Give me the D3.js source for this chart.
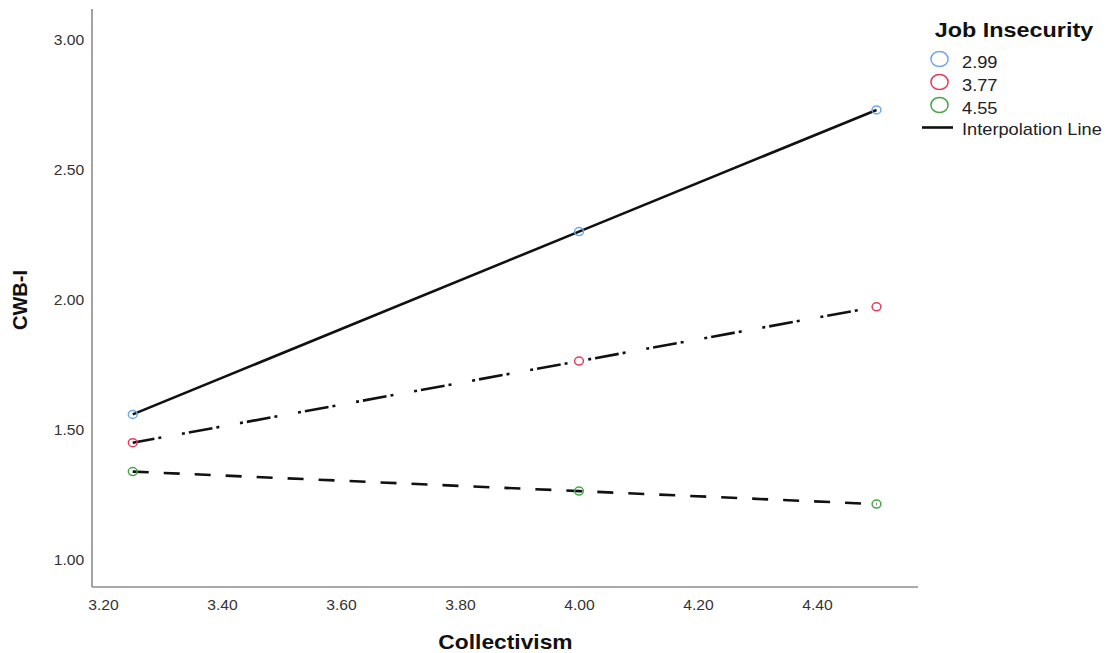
<!DOCTYPE html>
<html>
<head>
<meta charset="utf-8">
<script src="https://cdn.jsdelivr.net/npm/d3@7/dist/d3.min.js"></script>
<style>
  html, body { margin: 0; padding: 0; background: #fff; }
  svg { display: block; font-family: "Liberation Sans", Arial, sans-serif; }
</style>
</head>
<body>
<svg id="chart" width="1107" height="653"></svg>
<script>
// Simple slopes: CWB-I by Collectivism at three levels of Job Insecurity
const collectivism = [3.25, 4.00, 4.50];
const groups = ["2.99", "3.77", "4.55"];
const cwbLow = [1.56, 2.263, 2.731];
const cwbMid = [1.451, 1.765, 1.974];
const cwbHigh = [1.340, 1.265, 1.215];
const xTicks = [3.20, 3.40, 3.60, 3.80, 4.00, 4.20, 4.40];
const yTicks = [1.00, 1.50, 2.00, 2.50, 3.00];

const colors = ["#6fa8e8", "#e33d5c", "#4aa54a"];
const dashes = [null, "3 4 24 4 3 21", "16 15"];
const dashOffsets = [0, 9, 0];
const seriesValues = [cwbLow, cwbMid, cwbHigh];

// text in this chart is set slightly wide
const WIDE = 1.14;

const svg = d3.select("#chart");

const x = d3.scaleLinear().domain([3.2, 4.4]).range([103, 817]);
const y = d3.scaleLinear().domain([1.0, 3.0]).range([560, 40]);

const plotLeft = 92, plotRight = 918, plotTop = 9, plotBottom = 587;

function wideText(parent, tx, ty, str, opts) {
  const g = parent.append("g").attr("transform", `translate(${tx},${ty}) scale(${WIDE},1)`);
  const t = g.append("text").attr("x", 0).attr("y", 0)
    .attr("text-anchor", opts.anchor || "start")
    .style("font-size", opts.size + "px")
    .style("font-weight", opts.bold ? "bold" : "normal")
    .attr("fill", opts.fill || "#222")
    .text(str);
  return t;
}

// axes (frame lines only, no tick marks)
const xAxis = d3.axisBottom(x).tickValues(xTicks).tickFormat(d3.format(".2f")).tickSize(0).tickPadding(13);
const gx = svg.append("g").attr("transform", `translate(0,${plotBottom})`).call(xAxis);
gx.select(".domain").remove();
gx.selectAll("text").attr("fill", "#333").attr("transform", `scale(${WIDE - 0.02},1)`)
  .style("font-size", "14px").style("font-family", "Liberation Sans, Arial, sans-serif");

const yAxis = d3.axisLeft(y).tickValues(yTicks).tickFormat(d3.format(".2f")).tickSize(0).tickPadding(7);
const gy = svg.append("g").attr("transform", `translate(${plotLeft},0)`).call(yAxis);
gy.select(".domain").remove();
gy.selectAll("text").attr("fill", "#333").attr("transform", `scale(${WIDE - 0.02},1)`)
  .style("font-size", "14px").style("font-family", "Liberation Sans, Arial, sans-serif");

svg.append("line").attr("x1", plotLeft).attr("x2", plotLeft).attr("y1", plotTop).attr("y2", plotBottom)
  .attr("stroke", "#8c8c8c").attr("stroke-width", 1.6);
svg.append("line").attr("x1", plotLeft).attr("x2", plotRight).attr("y1", plotBottom).attr("y2", plotBottom)
  .attr("stroke", "#8c8c8c").attr("stroke-width", 1.6);

// axis titles
wideText(svg, 505.5, 649, "Collectivism", { size: 20, bold: true, anchor: "middle", fill: "#111" });
svg.append("text").attr("transform", "translate(27,300) rotate(-90)").attr("text-anchor", "middle")
  .style("font-size", "20px").style("font-weight", "bold").attr("fill", "#111").text("CWB-I");

// interpolation lines
const line = d3.line().x((d, i) => x(collectivism[i])).y(d => y(d));
seriesValues.forEach((vals, k) => {
  svg.append("path").datum(vals).attr("d", line)
    .attr("fill", "none").attr("stroke", "#111").attr("stroke-width", 2.6)
    .attr("stroke-dasharray", dashes[k])
    .attr("stroke-dashoffset", dashOffsets[k]);
});

// point markers
seriesValues.forEach((vals, k) => {
  svg.append("g").selectAll("ellipse").data(vals).join("ellipse")
    .attr("cx", (d, i) => x(collectivism[i])).attr("cy", d => y(d))
    .attr("rx", 4.4).attr("ry", 4)
    .attr("fill", "none").attr("stroke", colors[k]).attr("stroke-width", 1.5);
});

// legend
const lg = svg.append("g");
wideText(lg, 1014, 37, "Job Insecurity", { size: 20.5, bold: true, anchor: "middle", fill: "#111" });
groups.forEach((g, k) => {
  const cy = 59 + k * 23;
  lg.append("ellipse").attr("cx", 939.5).attr("cy", cy).attr("rx", 8.6).attr("ry", 7.6)
    .attr("fill", "none").attr("stroke", colors[k]).attr("stroke-width", 1.5);
  wideText(lg, 962, cy + 9, g, { size: 16, fill: "#222" });
});
lg.append("line").attr("x1", 922).attr("x2", 953).attr("y1", 127.5).attr("y2", 127.5)
  .attr("stroke", "#111").attr("stroke-width", 2.6);
wideText(lg, 962, 135, "Interpolation Line", { size: 16, fill: "#222" });
</script>
</body>
</html>
